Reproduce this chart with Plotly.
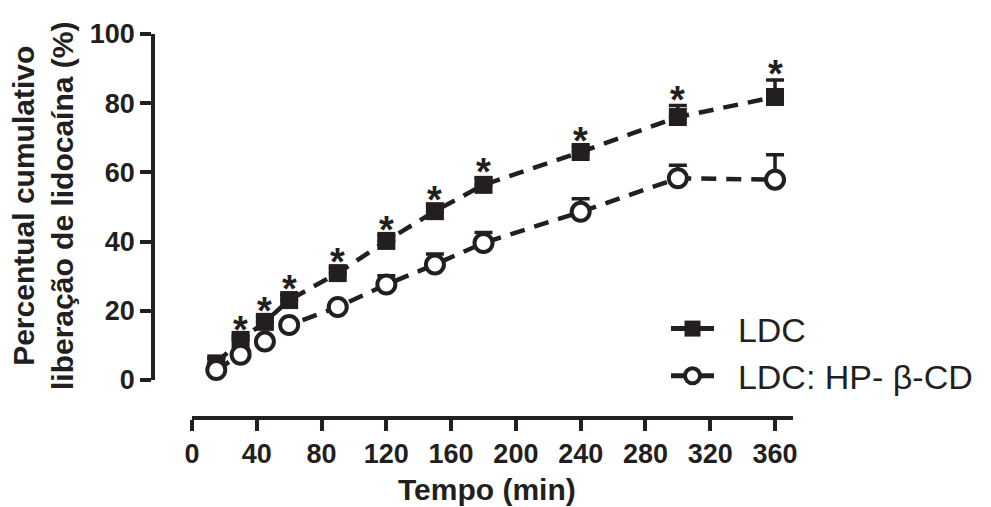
import plotly.graph_objects as go

# ---- data ----
time_min = [15, 30, 45, 60, 90, 120, 150, 180, 240, 300, 360]
ldc_mean = [4.8, 11.6, 16.8, 23.1, 30.9, 40.2, 48.8, 56.4, 65.9, 76.0, 81.8]
ldc_err = [1.5, 1.0, 1.5, 1.5, 1.5, 1.5, 1.5, 2.0, 1.5, 3.3, 4.9]
hp_mean = [2.9, 7.3, 11.1, 15.9, 21.1, 27.6, 33.4, 39.6, 48.6, 58.3, 57.9]
hp_err = [1.5, 1.0, 1.0, 1.0, 1.0, 2.5, 3.0, 3.0, 3.8, 3.8, 7.2]
signif = [False, True, True, True, True, True, True, True, True, True, True]

series_names = ["LDC", "LDC: HP- β-CD"]
x_ticks = [0, 40, 80, 120, 160, 200, 240, 280, 320, 360]
y_ticks = [0, 20, 40, 60, 80, 100]

INK = "#231f20"
FONT = "Liberation Sans, Arial, sans-serif"

# screen-space helpers (page has an 8px body margin)
L, T, W, H = 153, 34, 640, 384   # plot area in screen px


def px_x(px):
    return (px - L) / W


def px_y(py):
    return (T + H - py) / H


fig = go.Figure()

fig.add_trace(go.Scatter(
    x=time_min, y=ldc_mean, mode="lines+markers", name=series_names[0],
    showlegend=False, cliponaxis=False,
    line=dict(color=INK, width=4.5, dash="15px,10px"),
    marker=dict(symbol="square", size=18, color=INK),
    error_y=dict(type="data", array=ldc_err, arrayminus=[0] * len(ldc_err),
                 symmetric=False, color=INK, thickness=3.5, width=9),
))
fig.add_trace(go.Scatter(
    x=time_min, y=hp_mean, mode="lines+markers", name=series_names[1],
    showlegend=False, cliponaxis=False,
    line=dict(color=INK, width=4.5, dash="15px,10px"),
    marker=dict(symbol="circle", size=18, color="white",
                line=dict(color=INK, width=4)),
    error_y=dict(type="data", array=hp_err, arrayminus=[0] * len(hp_err),
                 symmetric=False, color=INK, thickness=3.5, width=9),
))

# legend-only entries (solid short line as in the reference legend)
GAP = "\u00a0\u00a0"
fig.add_trace(go.Scatter(
    x=[None], y=[None], mode="lines+markers", name=GAP + series_names[0],
    legendgroup="a",
    line=dict(color=INK, width=5),
    marker=dict(symbol="square", size=18, color=INK),
))
fig.add_trace(go.Scatter(
    x=[None], y=[None], mode="lines+markers", name=GAP + series_names[1],
    legendgroup="b",
    line=dict(color=INK, width=5),
    marker=dict(symbol="circle", size=15, color="white",
                line=dict(color=INK, width=4)),
))

# significance asterisks
for t, m, e, s in zip(time_min, ldc_mean, ldc_err, signif):
    if s:
        fig.add_annotation(
            x=t, y=m + e, text="*", showarrow=False,
            xanchor="center", yanchor="middle", yshift=6,
            font=dict(family=FONT, size=38, color=INK, weight="bold"),
        )

# axis titles
fig.add_annotation(
    xref="paper", yref="paper", x=px_x(43), y=px_y(206),
    text="Percentual cumulativo<br>liberação de lidocaína (%)",
    textangle=-90, showarrow=False, xanchor="center", yanchor="middle",
    font=dict(family=FONT, size=30, color=INK, weight="bold"),
)
fig.add_annotation(
    xref="paper", yref="paper", x=px_x(487), y=px_y(489),
    text="Tempo (min)", showarrow=False, xanchor="center", yanchor="middle",
    font=dict(family=FONT, size=30, color=INK, weight="bold"),
)

fig.update_layout(
    width=991, height=507,
    margin=dict(l=L - 8, r=991 - (L - 8) - W, t=T - 8, b=507 - (T - 8) - H,
                autoexpand=False),
    paper_bgcolor="white", plot_bgcolor="white",
    font=dict(family=FONT, color=INK),
    xaxis=dict(
        range=[0, 371.1], domain=[px_x(192), 1],
        anchor="free", position=0,
        tickmode="array", tickvals=x_ticks,
        ticks="outside", ticklen=11, tickwidth=3.5, tickcolor=INK,
        showline=True, linewidth=3.5, linecolor=INK,
        showgrid=False, zeroline=False,
        tickfont=dict(family=FONT, size=27, color=INK, weight="bold"),
    ),
    yaxis=dict(
        range=[0, 100], domain=[px_y(380), 1],
        anchor="free", position=0,
        tickmode="array", tickvals=y_ticks,
        ticks="outside", ticklen=11, tickwidth=3.5, tickcolor=INK,
        showline=True, linewidth=3.5, linecolor=INK,
        showgrid=False, zeroline=False,
        tickfont=dict(family=FONT, size=27, color=INK, weight="bold"),
    ),
    legend=dict(
        x=px_x(666), y=px_y(300),
        xanchor="left", yanchor="top", itemwidth=43,
        bgcolor="rgba(0,0,0,0)", traceorder="grouped", tracegroupgap=0,
        font=dict(family=FONT, size=34, color=INK),
    ),
)

fig.write_html("out.html")
